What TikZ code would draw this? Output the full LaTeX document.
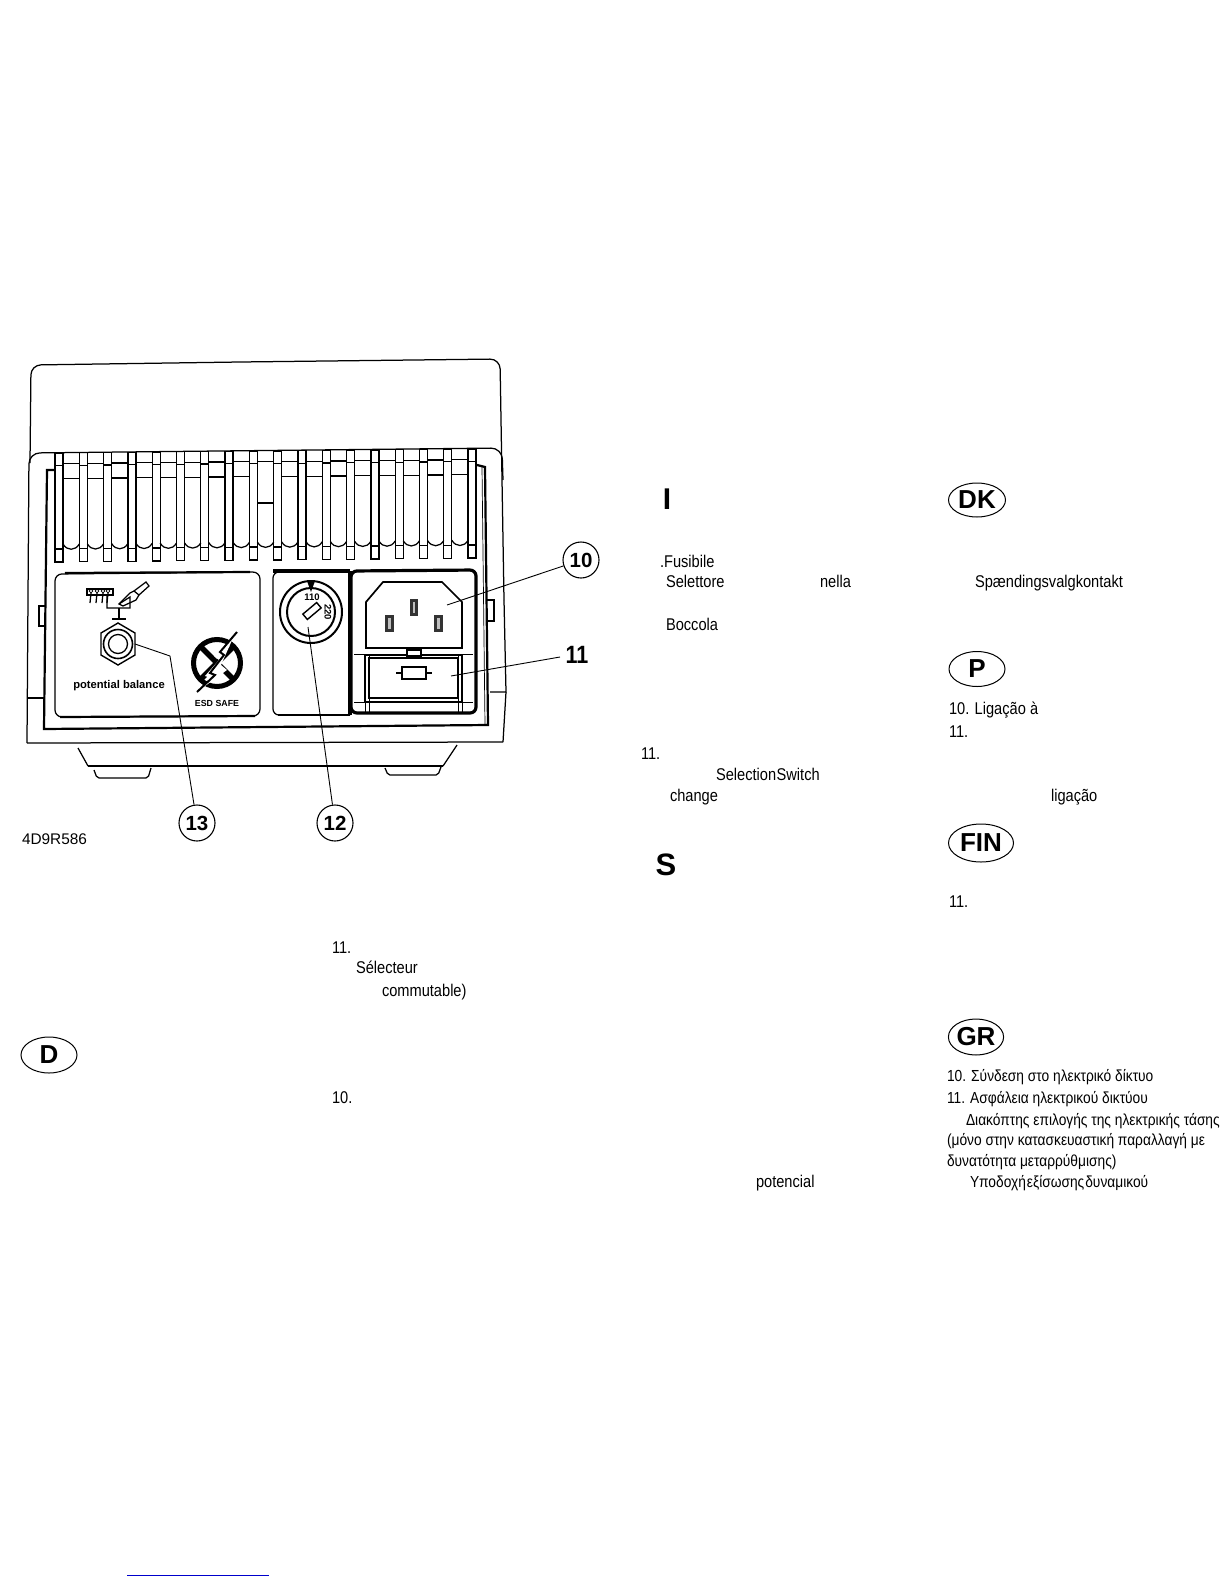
\documentclass[tikz,border=0pt]{standalone}
\usepackage{fontspec}
\usetikzlibrary{shapes.geometric}
\setmainfont{Liberation Sans}
\newfontfamily\tf[FakeStretch=.86]{Liberation Sans}
\newcommand{\tfb}{\tf\bfseries}
\newcommand{\wf}{\bfseries}
\begin{document}
\begin{tikzpicture}[x=1pt,y=-1pt,
  txt/.style={anchor=base west,inner sep=0pt,outer sep=0pt,font=\tf\fontsize{17}{19}\selectfont},
  grk/.style={anchor=base west,inner sep=0pt,outer sep=0pt,font=\tf\fontsize{16}{18}\selectfont},
  oval/.style={draw,ellipse,inner sep=0pt,line width=1pt,font=\wf\fontsize{26}{28}\selectfont},
  callout/.style={draw,circle,minimum size=36pt,inner sep=0pt,line width=1.1pt,font=\wf\fontsize{20.5}{22}\selectfont},
  lead/.style={line width=.9pt},
  thin line/.style={line width=.7pt},
  med/.style={line width=1.25pt},
  thick line/.style={line width=2.2pt},
  heavy/.style={line width=3.2pt},
  mini/.style={inner sep=0pt,outer sep=0pt}]
\useasboundingbox (0,0) rectangle (1224,1584);
\fill[white] (0,0) rectangle (1224,1584);

% housing
\draw[med,rounded corners=10pt] (30,463) -- (31,365) -- (240,362) -- (500,359) -- (504,600);
\draw[med] (504,600) -- (506,692) -- (490,692);
\draw[med] (506,692) -- (503,742);
\draw[med,rounded corners=11pt] (27,743) -- (29,453) -- (502,448) -- (503,480);
\draw[med] (27,743) -- (503,742);
\draw[med] (28,698) -- (45,698);
% side tabs
\draw[med] (45,606) -- (39,606) -- (39,626) -- (45,626);
\draw[med] (486,600) -- (494,600) -- (494,621) -- (486,621);
% inner frame
\draw[thick line] (55,470) -- (47,470) -- (44,729) -- (488,725) -- (485,467) -- (477,465);
\draw[thin line] (482,467) -- (485,725);
% feet
\draw[thick line] (88,766) -- (443,766);
\draw[med] (78,748) -- (88,766);
\draw[med] (457,745) -- (443,766);
\draw[med,rounded corners=2pt] (94,770) -- (97,778) -- (148,778) -- (151,768);
\draw[med,rounded corners=2pt] (385,768) -- (388,775) -- (438,775) -- (441,767);

% fins
\foreach \i in {0,...,17}{
  \pgfmathsetmacro{\xa}{55+24.3*\i}
  \pgfmathsetmacro{\xb}{\xa+8}
  \pgfmathsetmacro{\xc}{\xa+24.3}
  \pgfmathsetmacro{\t}{\i/17*4}
  \pgfmathsetmacro{\yt}{453-\t}
  \pgfmathsetmacro{\ya}{465.5-\t}
  \pgfmathsetmacro{\yb}{549-\t}
  \pgfmathsetmacro{\yc}{562-\t}
  \draw[med] (\xa,\yt) rectangle (\xb,\yc);
  \draw[med] (\xa,\ya) -- (\xb,\ya);
  \draw[med] (\xa,\yb) -- (\xb,\yb);
}
\foreach \i in {0,...,16}{
  \pgfmathsetmacro{\xa}{55+24.3*\i+8}
  \pgfmathsetmacro{\xc}{55+24.3*\i+24.3}
  \pgfmathsetmacro{\t}{\i/17*4}
  \pgfmathsetmacro{\ya}{463.5-\t}
  \pgfmathsetmacro{\yb}{\i==8?503:478.5-\t}
  \pgfmathsetmacro{\yd}{544-\t}
  \pgfmathsetmacro{\ye}{551-\t}
  \draw[med] (\xa,\ya) -- (\xc,\ya);
  \draw[med] (\xa,\yb) -- (\xc,\yb);
  \draw[med] (\xa,\yd) .. controls (\xa+4,\ye) and (\xc-4,\ye) .. (\xc,\yd);
  \draw[med] (\xc,\ya) -- (\xc,\yd);
}

% panels
\draw[med,rounded corners=7pt] (55,574) -- (260,572) -- (260,716) -- (55,717) -- cycle;
\draw[thick line] (60,717) -- (255,716);
\draw[thick line] (65,573) -- (250,572);
\draw[med,rounded corners=6pt] (350,715) -- (273,715) -- (273,572) -- (350,572);
\draw[thick line] (278,715) -- (350,715);
\draw[heavy] (273,571) -- (350,571);
\draw[heavy] (350,571) -- (350,715);
\draw[heavy,rounded corners=6pt] (351,571) -- (476,570) -- (476,713) -- (351,713) -- cycle;

% voltage knob
\draw[line width=2pt] (311,612) circle (31pt);
\draw[line width=2pt] (311,612) circle (24pt);
\fill (307,581) -- (315,581) -- (311,592) -- cycle;
\node[mini,font=\bfseries\fontsize{9.5}{10}\selectfont] (v110) at (312,597) {110};
\node[mini,rotate=-90,font=\bfseries\fontsize{9.5}{10}\selectfont] (v220) at (328,612) {220};
\draw[line width=1.4pt,rotate around={40:(312,611)}] (303,607.5) rectangle (321,614.5);

% socket
\draw[line width=1.7pt] (383,582) -- (442,582) -- (462,602) -- (462,648) -- (366,648) -- (366,602) -- cycle;
\foreach \px/\py/\pw/\ph in {410/599/8/17, 385/615/9/17, 434/615/9/17}{
  \fill[black!80] (\px,\py) rectangle ++(\pw,\ph);
  \fill[black!25] (\px+3,\py+3) rectangle ++(\pw-6,\ph-6);
}
% fuse holder
\draw[thin line] (354,654) -- (473,654);
\draw[thin line] (354,702) -- (473,702);
\draw[thin line] (365,655) -- (365,712);
\draw[thin line] (369,655) -- (369,712);
\draw[thin line] (458,655) -- (458,712);
\draw[thin line] (462,655) -- (462,712);
\draw[med] (365,655) rectangle (462,702);
\draw[line width=1.6pt] (369,658) rectangle (458,698);
\draw[med,fill=white] (407,650) rectangle (421,656);
\draw[med] (396,673) -- (432,673);
\draw[line width=1.4pt,fill=white] (402,667) rectangle (426,679);

% nut
\draw[line width=1.4pt] (118,623) -- (135,633) -- (135,655) -- (118,665) -- (101,655) -- (101,633) -- cycle;
\draw[line width=1.6pt] (118,644) circle (14.5pt);
\draw[line width=1.3pt] (118,644) circle (9.5pt);

% solder symbol
\draw[med] (87,589) -- (113,589) -- (113,595) -- (87,595) -- cycle;
\foreach \q in {91,97,103,108}{
  \draw[thin line] (\q,591) circle (1.8pt);
  \draw[med] (\q,593) -- (\q-1,603);
}
\draw[med] (107,596) -- (107,608) -- (130,608) -- (130,597) -- (119,604);
\draw[med] (119,608) -- (119,618);
\draw[med] (112,619) -- (126,619);
\draw[med] (119,604) -- (130,593) -- (134,591) -- (139,595) -- (136,600) -- (123,606) -- cycle;
\draw[med] (134,591) -- (146,582) -- (149,586) -- (139,595);

% ESD symbol
\draw[line width=5pt] (217,663) circle (23.5pt);
\draw[line width=5.5pt] (201,647) -- (233,679);
\draw[line width=5.5pt] (233,647) -- (201,679);
\fill[white] (233,638) -- (214,656) -- (219,660) -- (205,676) -- (211,678) -- (201,689) -- (227,670) -- (221,665) -- cycle;
\draw[line width=2pt] (237,632) -- (220,652) -- (224,655) -- (210,673) -- (215,675) -- (197,692);

\node[mini,anchor=base,font=\wf\fontsize{11.2}{12}\selectfont] (pot) at (119,688) {potential balance};
\node[mini,anchor=base,font=\wf\fontsize{8.8}{9}\selectfont] (esd) at (217,706) {ESD SAFE};

% callouts
\node[callout] (n10) at (581,560) {10};
\node[callout] (n12) at (335,823) {12};
\node[callout] (n13) at (197,823) {13};
\node[mini,font=\tfb\fontsize{25}{26}\selectfont] (n11) at (577,655) {11};
\coordinate (c10) at (447,605);
\coordinate (c11) at (451,676);
\coordinate (e11) at (560,657);
\coordinate (c12) at (308,627);
\coordinate (b13) at (170,656);
\coordinate (c13) at (135,644);
\draw[lead] (n10) -- (c10);
\draw[lead] (e11) -- (c11);
\draw[lead] (n12) -- (c12);
\draw[lead] (n13) -- (b13) -- (c13);

\node[mini,anchor=base west,font=\fontsize{15.4}{16}\selectfont] (code) at (22,844) {4D9R586};

% country ovals and headings
\node[oval,minimum width=56pt,minimum height=36pt] (D) at (49,1055) {D};
\node[oval,minimum width=57pt,minimum height=34pt] (DK) at (977,500) {DK};
\node[oval,minimum width=56pt,minimum height=35pt] (P) at (977,669) {P};
\node[oval,minimum width=65pt,minimum height=38pt] (FIN) at (981,843) {FIN};
\node[oval,minimum width=55pt,minimum height=36pt] (GR) at (976,1037) {GR};
\node[mini,anchor=base,font=\wf\fontsize{30}{32}\selectfont] (hI) at (667,509) {I};
\node[mini,anchor=base,font=\wf\fontsize{31}{33}\selectfont] (hS) at (666,875) {S};

% text fragments
\node[txt] (t1) at (660,567.5) {.Fusibile};
\node[txt] (t2) at (666,587) {Selettore};
\node[txt] (t3) at (820,587) {nella};
\node[txt] (t4) at (666,630) {Boccola};
\node[txt] (t5) at (641,759) {11.};
\node[txt] (t6) at (716,780) {Selection\kern.5pt Switch};
\node[txt] (t7) at (670,801) {change};
\node[txt] (t8) at (975,587) {Spændingsvalgkontakt};
\node[txt] (t9) at (949,714) {10. Ligação à};
\node[txt] (t10) at (949,737) {11.};
\node[txt] (t11) at (1051,801) {ligação};
\node[txt] (t12) at (949,907) {11.};
\node[txt] (t13) at (332,953) {11.};
\node[txt] (t14) at (356,973) {Sélecteur};
\node[txt] (t15) at (382,996) {commutable)};
\node[txt] (t16) at (332,1103) {10.};
\node[txt] (t17) at (756,1187) {potencial};
\node[grk] (g1) at (947,1081) {10. Σύνδεση στο ηλεκτρικό δίκτυο};
\node[grk] (g2) at (947,1103) {11. Ασφάλεια ηλεκτρικού δικτύου};
\node[grk] (g3) at (966,1125) {Διακόπτης επιλογής της ηλεκτρικής τάσης};
\node[grk] (g4) at (947,1145) {(μόνο στην κατασκευαστική παραλλαγή με};
\node[grk] (g5) at (947,1166) {δυνατότητα μεταρρύθμισης)};
\node[grk] (g6) at (970,1187) {Υποδοχή\kern1pt εξίσωσης\kern1pt δυναμικού};

% bottom rule
\draw[blue!80!black,line width=1pt] (127,1575) -- (269,1575);
\end{tikzpicture}
\end{document}
